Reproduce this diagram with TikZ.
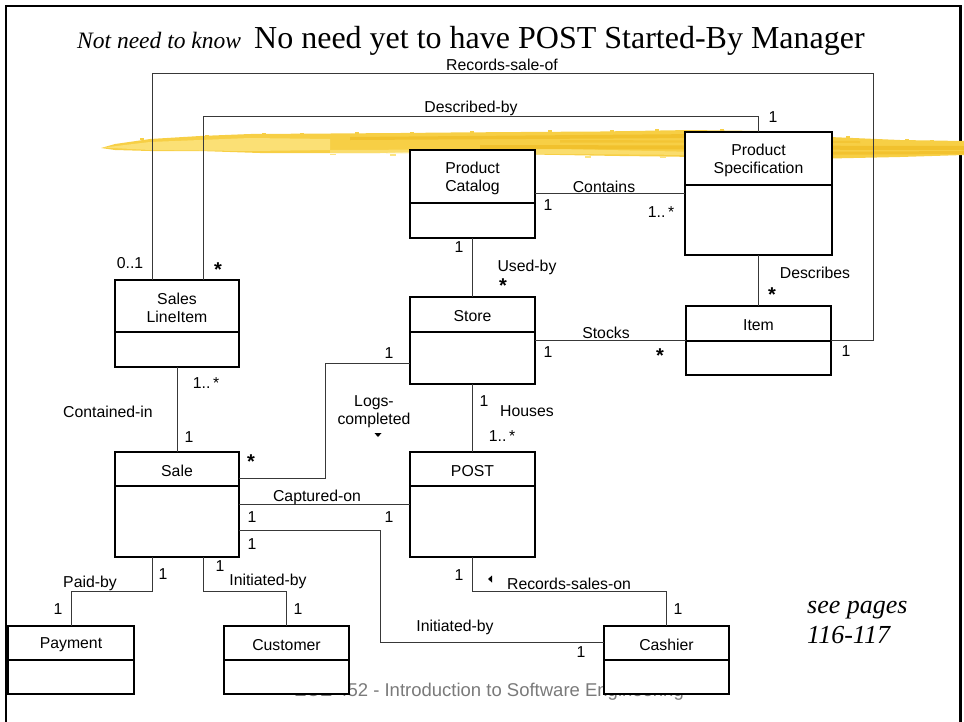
\documentclass[tikz,border=0pt]{standalone}
\usepackage{fontspec}
\setmainfont{Liberation Serif}
\newfontfamily\arial{Liberation Sans}
\definecolor{brushbase}{HTML}{F7CF45}
\definecolor{brushlight}{HTML}{FCE47E}
\definecolor{brushdark}{HTML}{EDB416}
\definecolor{footgray}{HTML}{7A7A7A}
\tikzset{
  clsbox/.style={draw=black, line width=1.2pt, fill=white, inner sep=0pt, outer sep=0pt},
  clsline/.style={draw=black, line width=1.2pt},
  clstext/.style={font=\arial\fontsize{15.8}{18.3}\selectfont, align=center, inner sep=0pt},
  assoc/.style={draw=black!78, line width=1pt},
  lbl/.style={font=\arial\fontsize{15.8}{18.3}\selectfont, inner sep=0pt, align=center},
  bigstar/.style={font=\arial\bfseries\fontsize{20}{20}\selectfont, inner sep=0pt},
  frameline/.style={draw=black, line width=2.4pt},
}
\newcommand\umlclass[7]{%
  \node[clsbox, minimum width={(#4-#2)*1pt}, minimum height={(#5-#3)*1pt}] (#1) at ({(#2+#4)/2},{(#3+#5)/2}) {};
  \draw[clsline] (#2,#6) -- (#4,#6);
  \node[clstext] (#1-t) at ({(#2+#4)/2},{(#3+#6)/2+2}) {#7};
}
\begin{document}
\begin{tikzpicture}[x=1pt,y=-1pt]
\useasboundingbox (0,0) rectangle (964,721);
% frame
\draw[frameline] (6.2,722) -- (6.2,6.2) -- (960.5,6.2) -- (960.5,722);
% yellow brush stroke
\fill[brushbase] (101,148) -- (115,144) -- (150,139) -- (200,136) -- (250,134) -- (330,133.5) -- (400,133) -- (450,132.5) -- (520,132) -- (600,131.5) -- (690,130) -- (760,131) -- (830,137) -- (900,140) -- (964,141) -- (964,155) -- (900,157) -- (830,158.5) -- (760,158) -- (700,157) -- (620,156) -- (560,155) -- (500,154) -- (440,151) -- (380,153) -- (330,153) -- (260,153) -- (200,151) -- (150,151) -- (115,150) -- cycle;
\fill[brushlight, opacity=0.85] (104,147.5) -- (150,142) -- (250,138) -- (330,139) -- (330,150) -- (250,151) -- (150,150) -- cycle;
\fill[brushlight, opacity=0.7] (330,150) -- (560,149) -- (700,152) -- (700,155) -- (560,154) -- (330,153) -- cycle;
\fill[brushdark, opacity=0.5] (350,137) -- (700,134) -- (700,138) -- (350,140) -- cycle;
\fill[brushdark, opacity=0.5] (480,145) -- (964,146) -- (964,150) -- (480,149) -- cycle;
\fill[brushdark, opacity=0.45] (780,152) -- (964,151) -- (964,154) -- (780,155) -- cycle;
\fill[brushdark, opacity=0.35] (560,140) -- (860,141) -- (860,143) -- (560,142.5) -- cycle;
\foreach \sx/\sy in {140/138,205/134.5,262/132.5,300/133,355/131.5,410/131.5,470/131,548/130,610/130,655/129,720/129,846/135.5,905/139,930/139.5}
  {\fill[brushbase] (\sx,\sy) rectangle ++(4,2);}
\foreach \sx/\sy in {330/153.5,390/154,455/151.5,520/154.5,585/156,660/156.5,735/158}
  {\fill[brushlight] (\sx,\sy) rectangle ++(6,1.6);}
% title
\node[anchor=base west, inner sep=0pt, font=\itshape\fontsize{23.5}{25}\selectfont] (sub) at (77,48) {Not need to know};
\node[anchor=base west, inner sep=0pt, font=\fontsize{32}{36}\selectfont] (title) at (254,48) {No need yet to have POST Started-By Manager};
% footer
\node[inner sep=0pt, text=footgray, font=\arial\fontsize{18.5}{20}\selectfont] (foot) at (489,692) {ECE 452 - Introduction to Software Engineering};
% see pages
\node[anchor=base west, inner sep=0pt, font=\itshape\fontsize{26}{28}\selectfont] (see1) at (807,613) {see pages};
\node[anchor=base west, inner sep=0pt, font=\itshape\fontsize{26}{28}\selectfont] (see2) at (807,643) {116-117};
% classes
\umlclass{cat}{410}{150}{535}{238}{203}{Product\\Catalog}
\umlclass{spec}{685}{132}{832}{255}{185}{Product\\Specification}
\umlclass{store}{410}{297}{535}{384}{332}{Store}
\umlclass{item}{686}{306}{831}{375}{341}{Item}
\umlclass{sli}{115}{280}{239}{367}{332}{Sales\\LineItem}
\umlclass{sale}{115}{452}{239}{557}{486}{Sale}
\umlclass{post}{410}{452}{535}{557}{486}{POST}
\umlclass{pay}{8}{626}{134}{694}{660}{Payment}
\umlclass{cust}{224}{626}{349}{694}{660}{Customer}
\umlclass{cash}{604}{626}{729}{694}{660}{Cashier}
% associations
\draw[assoc] (152,0 |- sli.north) |- (873,73) |- (item.east);
\draw[assoc] (203,0 |- sli.north) |- (758,116) -- (758,0 |- spec.north);
\draw[assoc] (cat.east |- 0,193) -- (spec.west |- 0,193);
\draw[assoc] (cat.south) -- (store.north);
\draw[assoc] (spec.south) -- (item.north);
\draw[assoc] (store.east) -- (item.west);
\draw[assoc] (store.south) -- (post.north);
\draw[assoc] (store.west |- 0,363) -| (325,478) -- (sale.east |- 0,478);
\draw[assoc] (sli.south) -- (sale.north);
\draw[assoc] (sale.east |- 0,504) -- (post.west |- 0,504);
\draw[assoc] (sale.east |- 0,530) -| (380,642) -- (cash.west |- 0,642);
\draw[assoc] (152,0 |- sale.south) |- (pay.north |- 0,591) -- (pay.north);
\draw[assoc] (203,0 |- sale.south) |- (cust.north |- 0,591) -- (cust.north);
\draw[assoc] (post.south) |- (cash.north |- 0,591) -- (cash.north);
% association labels
\node[lbl] (l-rso) at (502,65) {Records-sale-of};
\node[lbl] (l-db) at (471,108) {Described-by};
\node[lbl] (m-db1) at (773,117) {1};
\node[lbl] (l-con) at (604,187) {Contains};
\node[lbl] (m-con1) at (548,205) {1};
\node[lbl] (m-con2) at (661,212) {1..\,*};
\node[lbl] (m-ub1) at (459,247) {1};
\node[lbl] (l-ub) at (527,267) {Used-by};
\node[bigstar] (m-ub2) at (503,286) {*};
\node[lbl] (l-des) at (815,273) {Describes};
\node[bigstar] (m-des) at (772,295) {*};
\node[lbl] (l-stk) at (606,333) {Stocks};
\node[lbl] (m-stk1) at (548,352) {1};
\node[bigstar] (m-stk2) at (660,356) {*};
\node[lbl] (m-rso1) at (846,351) {1};
\node[lbl] (m-rso2) at (130,263) {0..1};
\node[bigstar] (m-db2) at (218,270) {*};
\node[lbl] (m-ci1) at (206,383) {1..\,*};
\node[lbl] (l-ci) at (108,412) {Contained-in};
\node[lbl] (m-ci2) at (189,437) {1};
\node[lbl] (m-lc1) at (389,353) {1};
\node[lbl] (l-lc) at (374,412) {Logs-\\completed};
\fill[black] (374.5,433) -- (381.5,433) -- (378,437) -- cycle;
\node[bigstar] (m-lc2) at (251,462) {*};
\node[lbl] (m-h1) at (484,401) {1};
\node[lbl] (l-h) at (527,411) {Houses};
\node[lbl] (m-h2) at (502,436) {1..\,*};
\node[lbl] (l-co) at (317,497) {Captured-on};
\node[lbl] (m-co1) at (252,517) {1};
\node[lbl] (m-co2) at (389,517) {1};
\node[lbl] (m-ib1) at (252,544) {1};
\node[lbl] (m-pb1) at (163,574) {1};
\node[lbl] (l-pb) at (90,583) {Paid-by};
\node[lbl] (m-pb2) at (58,609) {1};
\node[lbl] (m-ic1) at (220,566) {1};
\node[lbl] (l-ic) at (268,581) {Initiated-by};
\node[lbl] (m-ic2) at (298,609) {1};
\node[lbl] (m-rs1) at (459,575) {1};
\fill[black] (488,579) -- (492,575.5) -- (492,582.5) -- cycle;
\node[lbl] (l-rs) at (569,584) {Records-sales-on};
\node[lbl] (m-rs2) at (678,609) {1};
\node[lbl] (l-ib) at (455,627) {Initiated-by};
\node[lbl] (m-ib2) at (581,652) {1};
\end{tikzpicture}
\end{document}
